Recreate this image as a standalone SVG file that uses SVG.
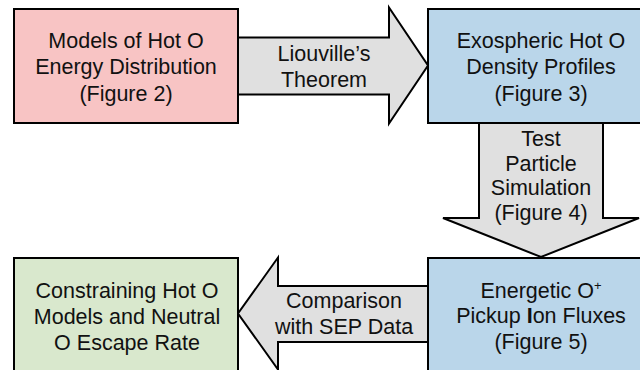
<svg xmlns="http://www.w3.org/2000/svg" width="640" height="370" viewBox="0 0 640 370">
  <style>
    .box { stroke: #000; stroke-width: 2; }
    .arrow { fill: #e0e0e0; stroke: #000; stroke-width: 2; stroke-linejoin: miter; }
    .pink { fill: #f8c4c4; }
    .blue { fill: #bad6ea; }
    .green { fill: #d9e8cd; }
    text { font-family: "Liberation Sans", Arial, sans-serif; font-size: 21.5px; fill: #111; text-anchor: middle; }
  </style>
  <rect width="640" height="370" fill="#fff"/>

  <!-- block arrows between the stages -->
  <g id="connectors">
    <g id="arrow-liouville">
      <polygon class="arrow" points="238,37.5 389,37.5 389,7.5 428,65.5 389,123.5 389,94.5 238,94.5"/>
      <text x="324" y="61">Liouville’s</text>
      <text x="324" y="87">Theorem</text>
    </g>
    <g id="arrow-test-particle">
      <polygon class="arrow" points="479,123 603,123 603,218 639,218 541,257 443,218 479,218"/>
      <text x="541" y="146">Test</text>
      <text x="541" y="170.5">Particle</text>
      <text x="541" y="195">Simulation</text>
      <text x="541" y="219.5">(Figure 4)</text>
    </g>
    <g id="arrow-comparison">
      <polygon class="arrow" points="428,286 278,286 278,257.5 238,313.5 278,369.5 278,342 428,342"/>
      <text x="344" y="308">Comparison</text>
      <text x="344" y="334">with SEP Data</text>
    </g>
  </g>

  <g id="node-hot-o-models">
    <rect class="box pink" x="14" y="9" width="224" height="114"/>
    <text x="126" y="47.5">Models of Hot O</text>
    <text x="126" y="74">Energy Distribution</text>
    <text x="126" y="100.5">(Figure 2)</text>
  </g>

  <g id="node-density-profiles">
    <rect class="box blue" x="428" y="9" width="226" height="114"/>
    <text x="541" y="47.5">Exospheric Hot O</text>
    <text x="541" y="74">Density Profiles</text>
    <text x="541" y="100.5">(Figure 3)</text>
  </g>

  <g id="node-pickup-fluxes">
    <rect class="box blue" x="428" y="258" width="226" height="116"/>
    <text x="541" y="297.5">Energetic O<tspan font-size="13" dy="-8">+</tspan></text>
    <text x="541" y="323">Pickup <tspan font-weight="bold">I</tspan>on Fluxes</text>
    <text x="541" y="348.5">(Figure 5)</text>
  </g>

  <g id="node-constraints">
    <rect class="box green" x="14" y="258" width="224" height="116"/>
    <text x="127" y="298">Constraining Hot O</text>
    <text x="127" y="324">Models and Neutral</text>
    <text x="127" y="350">O Escape Rate</text>
  </g>
</svg>
